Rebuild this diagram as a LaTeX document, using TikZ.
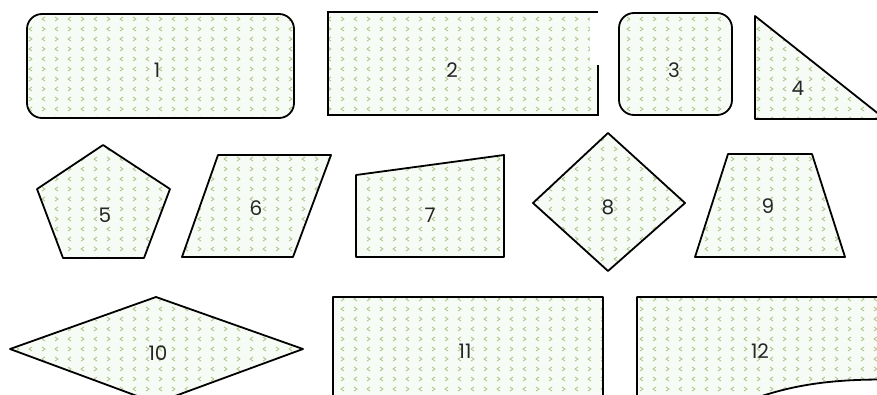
\documentclass[tikz,border=0pt]{standalone}
\usepackage{fontspec}
\setmainfont{Poppins}
\usetikzlibrary{patterns}

\definecolor{chevgreen}{RGB}{176,198,140}
\definecolor{shapebg}{RGB}{247,251,245}

% small chevrons, rows alternate > < and < >
\pgfdeclarepatternformonly{chevrons}{\pgfqpoint{-1pt}{-1pt}}{\pgfqpoint{27pt}{21pt}}{\pgfqpoint{26pt}{20pt}}{
    \pgfsetlinewidth{0.9pt}
    \pgfpathmoveto{\pgfqpoint{3pt}{17pt}}\pgfpathlineto{\pgfqpoint{6pt}{15pt}}\pgfpathlineto{\pgfqpoint{3pt}{13pt}}
    \pgfpathmoveto{\pgfqpoint{19pt}{17pt}}\pgfpathlineto{\pgfqpoint{16pt}{15pt}}\pgfpathlineto{\pgfqpoint{19pt}{13pt}}
    \pgfpathmoveto{\pgfqpoint{6pt}{7pt}}\pgfpathlineto{\pgfqpoint{3pt}{5pt}}\pgfpathlineto{\pgfqpoint{6pt}{3pt}}
    \pgfpathmoveto{\pgfqpoint{16pt}{7pt}}\pgfpathlineto{\pgfqpoint{19pt}{5pt}}\pgfpathlineto{\pgfqpoint{16pt}{3pt}}
    \pgfusepath{stroke}
}

\tikzset{
    shapefill/.style={preaction={fill=shapebg}, pattern=chevrons, pattern color=chevgreen,
        draw=black, line width=1.8pt, line join=round},
    num/.style={font=\fontsize{20}{24}\selectfont, text=black!85}
}

\begin{document}
\begin{tikzpicture}[x=1pt,y=-1pt]
    \useasboundingbox (0,0) rectangle (877,394);
    \clip (0,0) rectangle (877,394);

    % top row
    \path[shapefill, rounded corners=15pt] (27,14) rectangle (294,118);
    \fill[shapefill, draw=none] (328,12) rectangle (598,115);
    \fill[white] (590,9) rectangle (600,65);
    \draw[line width=1.8pt] (598,65) -- (598,115) -- (328,115) -- (328,12) -- (598,12);
    \path[shapefill, rounded corners=15pt] (619,13) rectangle (732,115);
    \path[shapefill] (755,16) -- (885,119) -- (755,119) -- cycle;

    % middle row
    \path[shapefill] (103,145) -- (170,189) -- (144,258) -- (63,258) -- (37,189) -- cycle;
    \path[shapefill] (218,155) -- (331,155) -- (293,257) -- (182,257) -- cycle;
    \path[shapefill] (356,175) -- (504,155) -- (504,257) -- (356,257) -- cycle;
    \path[shapefill] (608,133) -- (685,203) -- (608,271) -- (533,203) -- cycle;
    \path[shapefill] (728,154) -- (812,154) -- (845,257) -- (695,257) -- cycle;

    % bottom row
    \path[shapefill] (10,349) -- (156,297) -- (303,349) -- (156,403) -- cycle;
    \path[shapefill] (333,297) -- (603,297) -- (603,410) -- (333,410) -- cycle;
    \path[shapefill] (637,297) -- (930,297) -- (930,381)
        .. controls (840,376) and (795,384) .. (750,400) -- (637,400) -- cycle;

    \node[num] (l1) at (157,70) {1};
    \node[num] (l2) at (452,70) {2};
    \node[num] (l3) at (674,70) {3};
    \node[num] (l4) at (798,88) {4};
    \node[num] (l5) at (105,215) {5};
    \node[num] (l6) at (256,208) {6};
    \node[num] (l7) at (430,215) {7};
    \node[num] (l8) at (608,207) {8};
    \node[num] (l9) at (768,206) {9};
    \node[num] (l10) at (158,353) {10};
    \node[num] (l11) at (465,351) {11};
    \node[num] (l12) at (760,351) {12};
\end{tikzpicture}
\end{document}
